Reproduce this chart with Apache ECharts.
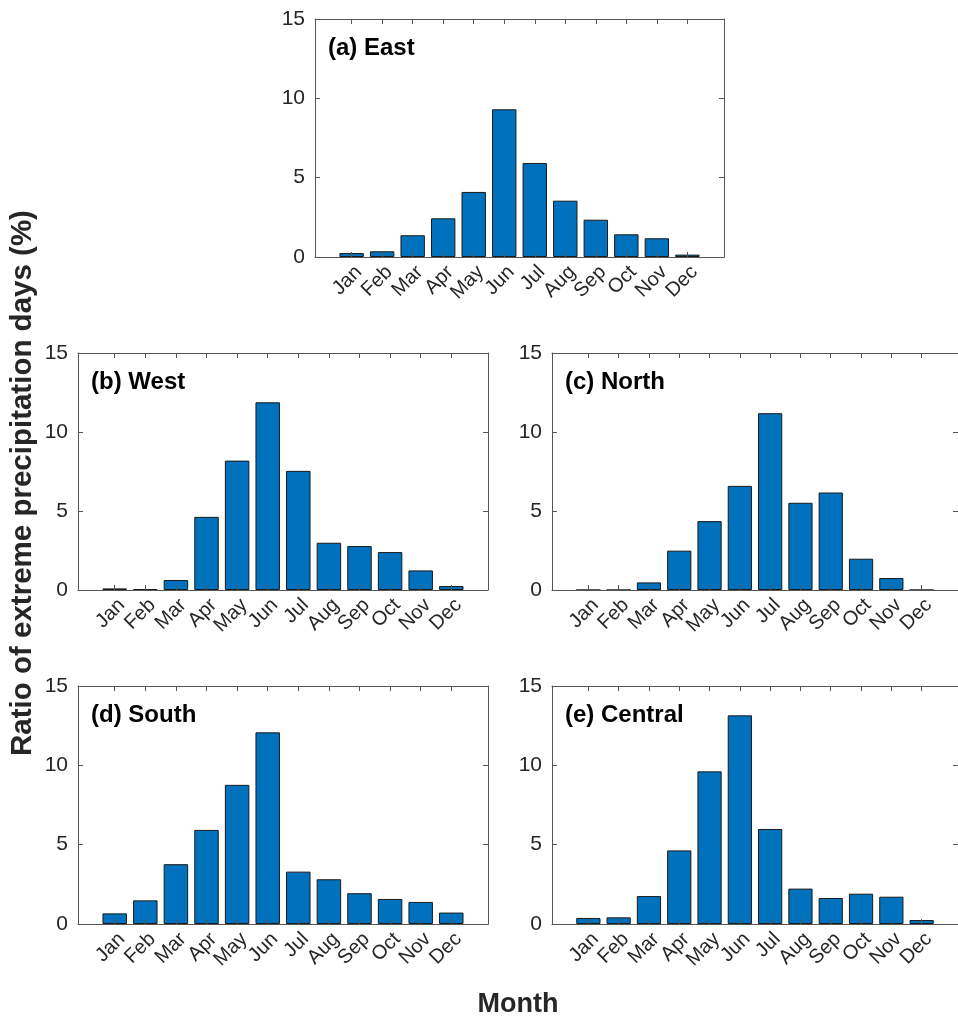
<!DOCTYPE html>
<html>
<head>
<meta charset="utf-8">
<script src="https://cdn.jsdelivr.net/npm/echarts@6/dist/echarts.min.js"></script>
<style>
  html, body { margin: 0; padding: 0; background: #fff; }
  #chart { width: 958px; height: 1026px; }
</style>
</head>
<body>
<div id="chart"></div>
<script>
// Monthly share of extreme precipitation days (%) per region
const months = ['Jan', 'Feb', 'Mar', 'Apr', 'May', 'Jun', 'Jul', 'Aug', 'Sep', 'Oct', 'Nov', 'Dec'];
const east    = [0.25, 0.36, 1.37, 2.44, 4.10, 9.31, 5.92, 3.55, 2.35, 1.43, 1.18, 0.15];
const west    = [0.10, 0.05, 0.63, 4.63, 8.19, 11.88, 7.54, 2.99, 2.78, 2.40, 1.24, 0.25];
const north   = [0, 0, 0.48, 2.49, 4.36, 6.59, 11.19, 5.52, 6.17, 1.98, 0.76, 0];
const south   = [0.67, 1.49, 3.77, 5.93, 8.77, 12.08, 3.30, 2.82, 1.94, 1.58, 1.39, 0.72];
const central = [0.38, 0.42, 1.76, 4.64, 9.62, 13.15, 5.99, 2.23, 1.64, 1.91, 1.72, 0.25];
const yTicks  = [0, 5, 10, 15];
const panelTitles = ['(a) East', '(b) West', '(c) North', '(d) South', '(e) Central'];
const panelData = [east, west, north, south, central];
const yAxisTitle = 'Ratio of extreme precipitation days (%)';
const xAxisTitle = 'Month';

const FONT = '"Liberation Sans", Arial, Helvetica, sans-serif';
const TEXT = '#262626';
const AXIS = '#555555';
const BAR = '#0072BD';

// panel frames (px)
const frames = [
  { left: 315, top: 19,  width: 409, height: 238 },
  { left: 78,  top: 353, width: 410, height: 237 },
  { left: 552, top: 353, width: 410, height: 237 },
  { left: 78,  top: 686, width: 410, height: 238 },
  { left: 552, top: 686, width: 410, height: 238 }
];

const monthPos = months.map((m, i) => i + 1);
const X_MIN = -0.2, X_MAX = 13.2;

const grid = [], xAxis = [], yAxis = [], series = [], graphic = [];

frames.forEach((f, k) => {
  grid.push({ left: f.left, top: f.top, width: f.width, height: f.height, containLabel: false });

  const baseX = {
    type: 'value', gridIndex: k, min: X_MIN, max: X_MAX, z: 5,
    axisLine: { show: true, onZero: false, lineStyle: { color: AXIS, width: 1 } },
    axisTick: { show: true, inside: true, length: 5, customValues: monthPos, lineStyle: { color: AXIS } },
    splitLine: { show: false }
  };
  xAxis.push(Object.assign({}, baseX, {
    position: 'bottom',
    axisLabel: {
      show: true, rotate: 45, margin: 5, customValues: monthPos,
      verticalAlign: 'top',
      formatter: v => months[Math.round(v) - 1] || '',
      color: TEXT, fontFamily: FONT, fontSize: 20
    }
  }));
  xAxis.push(Object.assign({}, baseX, { position: 'top', axisLabel: { show: false } }));

  const baseY = {
    type: 'value', gridIndex: k, min: yTicks[0], max: yTicks[yTicks.length - 1], interval: 5, z: 5,
    axisLine: { show: true, onZero: false, lineStyle: { color: AXIS, width: 1 } },
    axisTick: { show: true, inside: true, length: 5, lineStyle: { color: AXIS } },
    splitLine: { show: false }
  };
  yAxis.push(Object.assign({}, baseY, {
    position: 'left',
    axisLabel: { show: true, margin: 10, color: TEXT, fontFamily: FONT, fontSize: 21 }
  }));
  yAxis.push(Object.assign({}, baseY, { position: 'right', axisLabel: { show: false } }));

  series.push({
    type: 'bar',
    xAxisIndex: 2 * k, yAxisIndex: 2 * k,
    data: panelData[k].map((v, i) => [monthPos[i], v]),
    barWidth: '80%',
    itemStyle: { color: BAR, borderColor: '#1a1a1a', borderWidth: 1 },
    silent: true, animation: false
  });

  graphic.push({
    type: 'text',
    x: f.left + 13, y: f.top + 29,
    style: {
      text: panelTitles[k], fill: '#000', font: 'bold 24px ' + FONT,
      textAlign: 'left', textVerticalAlign: 'middle'
    }
  });
});

graphic.push({
  type: 'text', x: 23, y: 483, rotation: Math.PI / 2,
  style: { text: yAxisTitle, fill: TEXT, font: 'bold 29.5px ' + FONT, textAlign: 'center', textVerticalAlign: 'middle' }
});
graphic.push({
  type: 'text', x: 518, y: 1005,
  style: { text: xAxisTitle, fill: TEXT, font: 'bold 27px ' + FONT, textAlign: 'center', textVerticalAlign: 'middle' }
});

const chart = echarts.init(document.getElementById('chart'), null, { renderer: 'canvas' });
chart.setOption({ animation: false, backgroundColor: '#fff', grid, xAxis, yAxis, series, graphic });
</script>
</body>
</html>
